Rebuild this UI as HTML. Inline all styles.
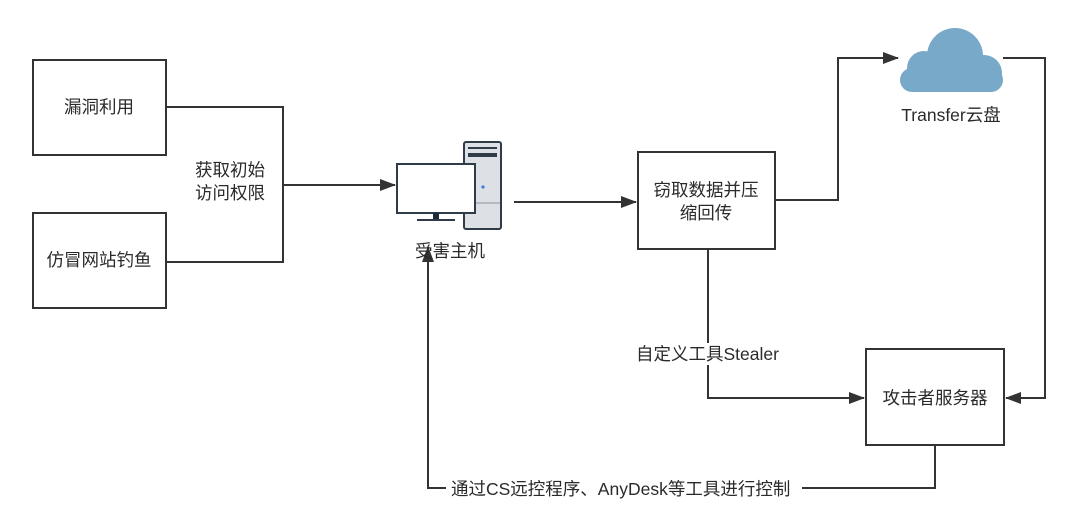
<!DOCTYPE html>
<html><head><meta charset="utf-8"><style>
html,body{margin:0;padding:0;background:#fff;}
svg{display:block;}
text{font-family:"Liberation Sans","Noto Sans CJK SC",sans-serif;fill:#2a2a2a;font-size:17.5px;}
</style></head><body>
<svg width="1080" height="520" viewBox="0 0 1080 520" xmlns="http://www.w3.org/2000/svg">
<defs>
<marker id="b" markerWidth="16" markerHeight="12" refX="15" refY="6" orient="auto" markerUnits="userSpaceOnUse" viewBox="0 0 16 12"><path d="M0,0 L16,6 L0,12 Z" fill="#333"/></marker></defs>
<g fill="none" stroke="#333" stroke-width="2">
<rect x="33" y="60" width="133" height="95"/>
<rect x="33" y="213" width="133" height="95"/>
<rect x="638" y="152" width="137" height="97"/>
<rect x="866" y="349" width="138" height="96"/>
<polyline points="166,107 283,107 283,262 166,262"/>
<line x1="283" y1="185" x2="395" y2="185" marker-end="url(#b)"/>
<line x1="514" y1="202" x2="636" y2="202" marker-end="url(#b)"/>
<polyline points="775,200 838,200 838,58 898,58" marker-end="url(#b)"/>
<polyline points="1003,58 1045,58 1045,398 1006,398" marker-end="url(#b)"/>
<polyline points="708,249 708,398 864,398" marker-end="url(#b)"/>
<polyline points="935,445 935,488 428,488 428,247" marker-end="url(#b)"/>
</g>
<rect x="632" y="343" width="154" height="22" fill="#fff"/>
<text x="636" y="360">自定义工具Stealer</text>
<rect x="446" y="477" width="356" height="22" fill="#fff"/>
<text x="451" y="495">通过CS远控程序、AnyDesk等工具进行控制</text>
<text x="99" y="113" text-anchor="middle">漏洞利用</text>
<text x="99" y="266" text-anchor="middle">仿冒网站钓鱼</text>
<text x="230" y="176" text-anchor="middle">获取初始</text>
<text x="230" y="199" text-anchor="middle">访问权限</text>
<text x="706" y="196" text-anchor="middle">窃取数据并压</text>
<text x="706" y="219" text-anchor="middle">缩回传</text>
<text x="935" y="404" text-anchor="middle">攻击者服务器</text>
<text x="951" y="121" text-anchor="middle">Transfer云盘</text>
<text x="450" y="257" text-anchor="middle">受害主机</text>
<!-- computer -->
<rect x="464" y="142" width="37" height="87" rx="2" fill="#dde1e6" stroke="#2f3b48" stroke-width="2"/>
<rect x="468" y="147" width="29" height="2" fill="#2f3b48"/>
<rect x="468" y="153" width="29" height="4" fill="#2f3b48"/>
<line x1="465" y1="203" x2="500" y2="203" stroke="#8a939c" stroke-width="1"/>
<circle cx="483" cy="187" r="1.6" fill="#3a7bd5"/>
<rect x="397" y="164" width="78" height="49" fill="#fff" stroke="#2f3b48" stroke-width="2"/>
<rect x="433" y="213" width="6" height="7" fill="#1e2a36"/>
<rect x="417" y="219" width="38" height="2" fill="#2f3b48"/>
<!-- cloud -->
<g fill="#79a9c8">
<circle cx="955" cy="56" r="28"/>
<circle cx="924" cy="68" r="17"/>
<circle cx="984" cy="73" r="18"/>
<rect x="900" y="68" width="103" height="24" rx="12"/>
</g>
</svg>
</body></html>
